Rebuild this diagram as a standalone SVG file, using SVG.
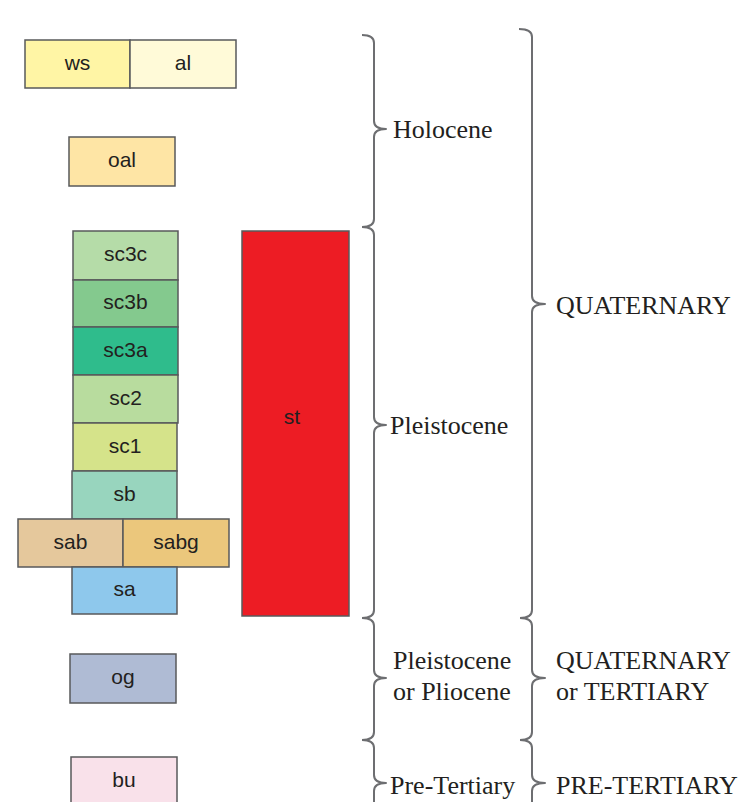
<svg xmlns="http://www.w3.org/2000/svg" width="738" height="802" viewBox="0 0 738 802">
<style>
.box{stroke:#58595b;stroke-width:1.5}
.lbl{font-family:"Liberation Sans",Arial,sans-serif;font-size:21px;fill:#231f20;text-anchor:middle}
.br{fill:none;stroke:#6d6e71;stroke-width:2;stroke-linejoin:round}
.t{font-family:"Liberation Serif","Times New Roman",serif;font-size:26px;fill:#231f20}
</style>
<rect width="738" height="802" fill="#fff"/>
<g id="ws"><rect class="box" x="25" y="40" width="105" height="48" fill="#fff5a5"/><text class="lbl" x="77.5" y="70">ws</text></g>
<g id="al"><rect class="box" x="130" y="40" width="106" height="48" fill="#fffad8"/><text class="lbl" x="183" y="70">al</text></g>
<g id="oal"><rect class="box" x="69" y="137" width="106" height="49" fill="#fee5a5"/><text class="lbl" x="122" y="167">oal</text></g>
<g id="sc3c"><rect class="box" x="73" y="231" width="105" height="49" fill="#b5dca8"/><text class="lbl" x="125.5" y="261">sc3c</text></g>
<g id="sc3b"><rect class="box" x="73" y="280" width="105" height="47" fill="#84c98e"/><text class="lbl" x="125.5" y="309">sc3b</text></g>
<g id="sc3a"><rect class="box" x="73" y="327" width="105" height="48" fill="#2fbc8c"/><text class="lbl" x="125.5" y="357">sc3a</text></g>
<g id="sc2"><rect class="box" x="73" y="375" width="105" height="48" fill="#b8dc9e"/><text class="lbl" x="125.5" y="405">sc2</text></g>
<g id="sc1"><rect class="box" x="73" y="423" width="104" height="48" fill="#d5e38a"/><text class="lbl" x="125" y="453">sc1</text></g>
<g id="sb"><rect class="box" x="72" y="471" width="105" height="48" fill="#98d5be"/><text class="lbl" x="124.5" y="501">sb</text></g>
<g id="sab"><rect class="box" x="18" y="519" width="105" height="48" fill="#e5c89c"/><text class="lbl" x="70.5" y="549">sab</text></g>
<g id="sabg"><rect class="box" x="123" y="519" width="106" height="48" fill="#ebc77c"/><text class="lbl" x="176" y="549">sabg</text></g>
<g id="sa"><rect class="box" x="72" y="567" width="105" height="47" fill="#8ec8ec"/><text class="lbl" x="124.5" y="596">sa</text></g>
<g id="st"><rect class="box" x="242" y="231" width="107" height="385" fill="#ed1c24"/><text class="lbl" x="292" y="424">st</text></g>
<g id="og"><rect class="box" x="70" y="654" width="106" height="49" fill="#afbbd4"/><text class="lbl" x="123" y="684">og</text></g>
<g id="bu"><rect class="box" x="71" y="757" width="106" height="50" fill="#f9e1ea"/><text class="lbl" x="124" y="787">bu</text></g>
<g id="connectors">
<path class="br" d="M362 35 Q374 35 374 43 L374 121 Q374 129 386 129 Q374 129 374 137 L374 219 Q374 227 362 227"/>
<path class="br" d="M362 227 Q374 227 374 235 L374 417 Q374 425 386 425 Q374 425 374 433 L374 610 Q374 618 362 618"/>
<path class="br" d="M362 618 Q374 618 374 626 L374 670 Q374 678 386 678 Q374 678 374 686 L374 732 Q374 740 362 740"/>
<path class="br" d="M362 740 Q374 740 374 748 L374 775 Q374 783 386 783 Q374 783 374 791 L374 830"/>
<path class="br" d="M519 29 Q532 29 532 37 L532 296 Q532 304 545 304 Q532 304 532 312 L532 610 Q532 618 520 618"/>
<path class="br" d="M520 618 Q532 618 532 626 L532 670 Q532 678 545 678 Q532 678 532 686 L532 732 Q532 740 520 740"/>
<path class="br" d="M520 740 Q532 740 532 748 L532 775 Q532 783 545 783 Q532 783 532 791 L532 830"/>
</g>
<g id="labels">
<text class="t" x="393" y="138">Holocene</text>
<text class="t" x="390" y="434">Pleistocene</text>
<text class="t" x="393" y="669">Pleistocene</text>
<text class="t" x="393" y="700">or Pliocene</text>
<text class="t" x="390" y="794">Pre-Tertiary</text>
<text class="t" x="556" y="314">QUATERNARY</text>
<text class="t" x="556" y="669">QUATERNARY</text>
<text class="t" x="556" y="700">or TERTIARY</text>
<text class="t" x="556" y="794">PRE-TERTIARY</text>
</g>
</svg>
